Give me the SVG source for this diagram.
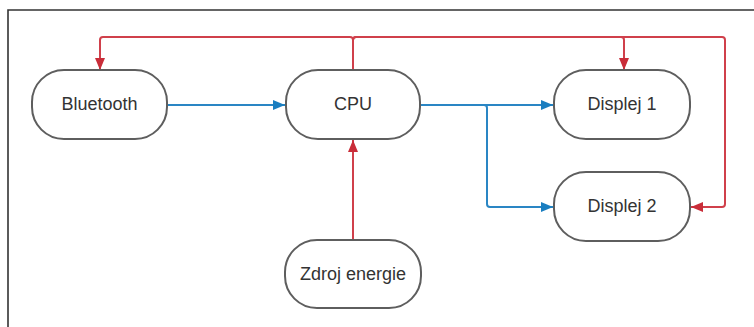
<svg xmlns="http://www.w3.org/2000/svg" width="754" height="327" viewBox="0 0 754 327">
<style>
.node rect{fill:#fff;stroke:#5e5e5e;stroke-width:2}
.node text{font-family:"Liberation Sans",Arial,sans-serif;font-size:18px;fill:#333;text-anchor:middle}
.red{fill:none;stroke:#d0404b;stroke-width:2}
.blue{fill:none;stroke:#2a86c4;stroke-width:2}
</style>
<defs>
<marker id="ar" viewBox="0 0 12 10" refX="12" refY="5" markerWidth="12" markerHeight="10" markerUnits="userSpaceOnUse" orient="auto"><path d="M0,0 L12,5 L0,10 Z" fill="#c92d39"/></marker>
<marker id="ab" viewBox="0 0 12 10" refX="12" refY="5" markerWidth="12" markerHeight="10" markerUnits="userSpaceOnUse" orient="auto"><path d="M0,0 L12,5 L0,10 Z" fill="#1a7ec0"/></marker>
</defs>
<rect width="754" height="327" fill="#fff"/>
<path d="M8,327 V10 H754" fill="none" stroke="#333" stroke-width="1.6"/>
<g id="connectors">
<path class="red" d="M353,70 V40 Q353,37 350,37 H103 Q100,37 100,40 V70" marker-end="url(#ar)"/>
<path class="red" d="M353,70 V40 Q353,37 356,37 H621 Q624,37 624,40 V70" marker-end="url(#ar)"/>
<path class="red" d="M353,70 V40 Q353,37 356,37 H722 Q725,37 725,40 V204 Q725,207 722,207 H691" marker-end="url(#ar)"/>
<path class="red" d="M353,240 V140" marker-end="url(#ar)"/>
<path class="blue" d="M167,105 H285" marker-end="url(#ab)"/>
<path class="blue" d="M420,105 H553" marker-end="url(#ab)"/>
<path class="blue" d="M420,105 H484 Q487,105 487,108 V204 Q487,207 490,207 H553" marker-end="url(#ab)"/>
</g>
<g id="bluetooth" class="node"><rect x="32" y="70" width="135" height="69" rx="32" ry="32"/><text x="99.5" y="110">Bluetooth</text></g>
<g id="cpu" class="node"><rect x="286" y="70" width="134" height="69" rx="32" ry="32"/><text x="353" y="110">CPU</text></g>
<g id="displej1" class="node"><rect x="554" y="70" width="136" height="69" rx="32" ry="32"/><text x="622" y="110">Displej 1</text></g>
<g id="displej2" class="node"><rect x="554" y="172" width="136" height="69" rx="32" ry="32"/><text x="622" y="212">Displej 2</text></g>
<g id="zdroj" class="node"><rect x="285" y="240" width="136" height="68" rx="32" ry="32"/><text x="353" y="280">Zdroj energie</text></g>
</svg>
